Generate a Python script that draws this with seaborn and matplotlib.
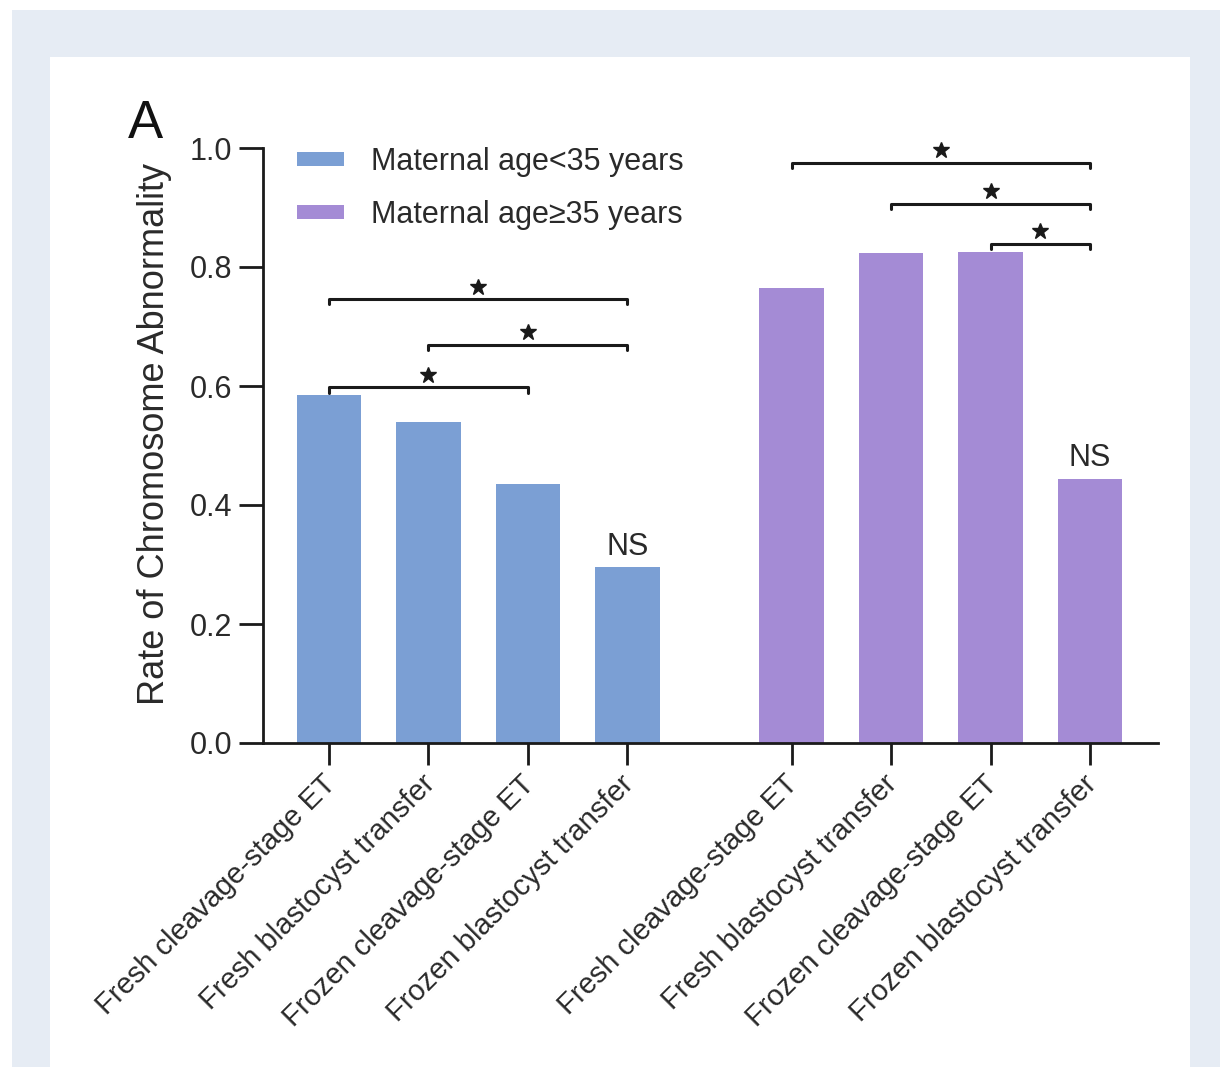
import matplotlib
matplotlib.use("Agg")
import matplotlib.pyplot as plt
import seaborn as sns
import pandas as pd
from matplotlib.patches import Rectangle, Patch

# ---------------- data ----------------
categories = ["Fresh cleavage-stage ET", "Fresh blastocyst transfer",
              "Frozen cleavage-stage ET", "Frozen blastocyst transfer"]
groups = ["Maternal age<35 years", "Maternal age\u226535 years"]
young_rates = [0.585, 0.540, 0.435, 0.296]
older_rates = [0.765, 0.823, 0.826, 0.444]
# significance brackets: (bar i, bar j, height)
young_brackets = [(0, 3, 0.746), (1, 3, 0.669), (0, 2, 0.598)]
older_brackets = [(0, 3, 0.975), (1, 3, 0.906), (2, 3, 0.839)]
ns_label = "NS"

# ---------------- style ----------------
sns.set_style("white")
plt.rcParams['font.family'] = ['Liberation Sans', 'DejaVu Sans']
TXT = "#2a2a2a"
BLUE = "#7b9fd4"
PURPLE = "#a48bd5"
FRAME = "#e6ecf4"

W, H = 1220, 1067
fig = plt.figure(figsize=(W / 100, H / 100), dpi=100)
fig.patch.set_facecolor("white")
fig.patches.append(Rectangle((12 / W, 0), 1 - 12 / W, 1 - 10 / H,
                             transform=fig.transFigure, facecolor=FRAME,
                             edgecolor="none", zorder=-3))
fig.patches.append(Rectangle((50 / W, 0), (1190 - 50) / W, 1 - 57 / H,
                             transform=fig.transFigure, facecolor="white",
                             edgecolor="none", zorder=-2))

ax = fig.add_axes([263 / W, 1 - 743 / H, (1158 - 263) / W, (743 - 148) / H])
ax.set_facecolor("none")

gap = 1.65
pos_young = [float(i) for i in range(4)]
pos_older = [3 + gap + i for i in range(4)]
df = pd.DataFrame({
    "pos": pos_young + pos_older,
    "rate": young_rates + older_rates,
    "group": [groups[0]] * 4 + [groups[1]] * 4,
})
sns.barplot(data=df, x="pos", y="rate", hue="group", native_scale=True,
            dodge=False, width=0.65, palette=[BLUE, PURPLE],
            saturation=1, linewidth=0, legend=False, ax=ax)

ax.set_xlim(-0.663, pos_older[-1] + 0.683)
ax.set_ylim(0, 1.0)
ax.set_yticks([0.0, 0.2, 0.4, 0.6, 0.8, 1.0])
ax.set_yticklabels([f"{v:.1f}" for v in [0.0, 0.2, 0.4, 0.6, 0.8, 1.0]])
ax.set_xticks(pos_young + pos_older)
ax.set_xticklabels(categories + categories, rotation=45, ha="right",
                   va="center", rotation_mode="anchor")
ax.set_xlabel("")
ax.set_ylabel("Rate of Chromosome Abnormality", fontsize=26, color=TXT)
ax.yaxis.set_label_coords(-0.102, 0.52)

for s in ["top", "right"]:
    ax.spines[s].set_visible(False)
for s in ["left", "bottom"]:
    ax.spines[s].set_linewidth(2.0)
    ax.spines[s].set_color("#1a1a1a")
ax.tick_params(axis="y", direction="out", length=17, width=2.0,
               color="#1a1a1a", labelsize=22, labelcolor=TXT, pad=5, left=True)
ax.tick_params(axis="x", direction="out", length=16, width=2.0,
               color="#1a1a1a", labelsize=21, labelcolor=TXT, pad=9, bottom=True)
for lab in ax.get_xticklabels():
    lab.set_va("center_baseline")


def bracket(x1, x2, y):
    d = 0.009
    ax.plot([x1, x1, x2, x2], [y - d, y, y, y - d], color="#1a1a1a", lw=2.2,
            clip_on=False, solid_capstyle="round", solid_joinstyle="round")
    ax.plot([(x1 + x2) / 2], [y + 0.021], marker="*", color="#1a1a1a",
            markersize=12, clip_on=False, linestyle="none")


for i, j, h in young_brackets:
    bracket(pos_young[i], pos_young[j], h)
for i, j, h in older_brackets:
    bracket(pos_older[i], pos_older[j], h)

ax.text(pos_young[3], young_rates[3] + 0.009, ns_label, ha="center",
        va="bottom", fontsize=22, color=TXT)
ax.text(pos_older[3], older_rates[3] + 0.009, ns_label, ha="center",
        va="bottom", fontsize=22, color=TXT)

handles = [Patch(facecolor=BLUE, edgecolor="none"),
           Patch(facecolor=PURPLE, edgecolor="none")]
leg = ax.legend(handles, groups, loc="upper left",
                bbox_to_anchor=(0.038, 1.002), frameon=False, fontsize=22,
                handlelength=1.55, handleheight=0.33, handletextpad=0.88,
                labelspacing=0.75, borderpad=0, borderaxespad=0)
for t in leg.get_texts():
    t.set_color(TXT)

fig.text(145 / W, 1 - 124 / H, "A", fontsize=38, color="#111111",
         ha="center", va="center")

fig.savefig("out.png", dpi=100, facecolor=fig.get_facecolor())
